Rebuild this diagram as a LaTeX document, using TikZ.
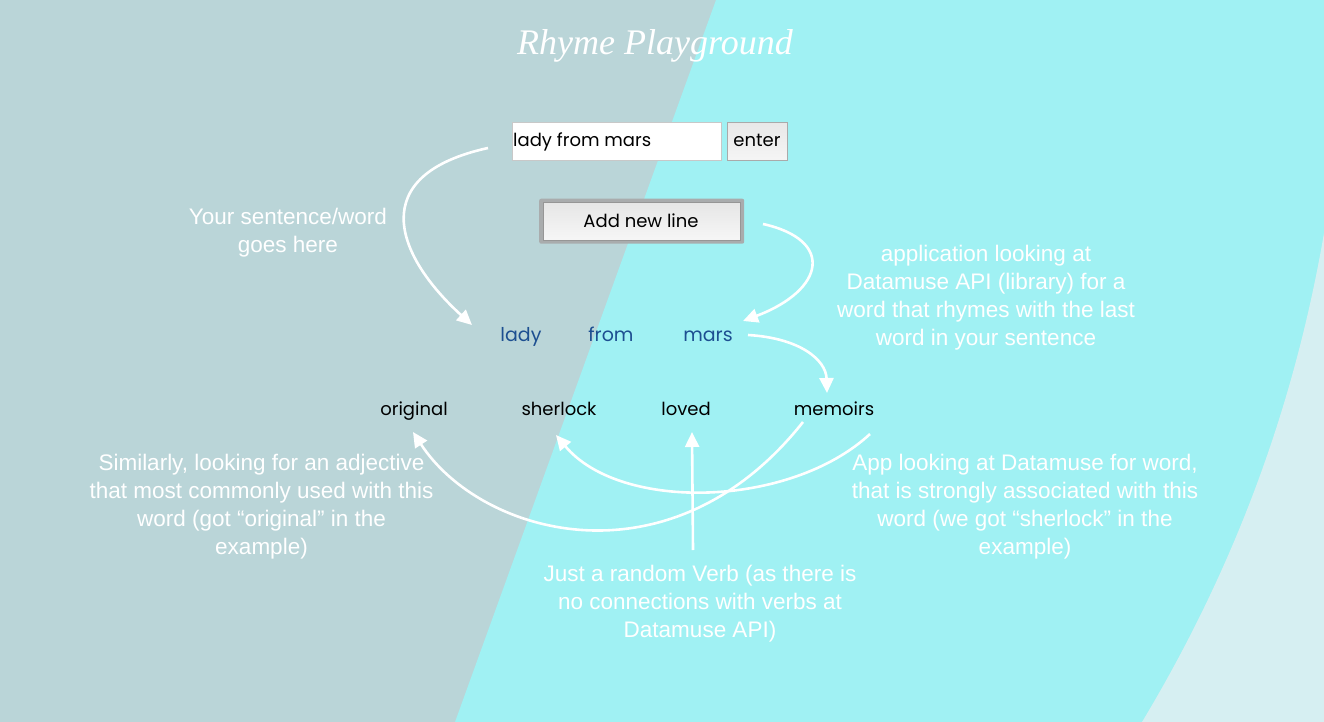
\documentclass[tikz,border=0pt]{standalone}
\usepackage{fontspec}
\setmainfont{Liberation Sans}
\newfontfamily\uifont{Poppins}
\newfontfamily\titlefont{Liberation Serif}
\usetikzlibrary{arrows.meta}
\definecolor{leftbg}{HTML}{BAD5D8}
\definecolor{cyanbg}{HTML}{A0F1F3}
\definecolor{lightbg}{HTML}{D6EFF2}
\definecolor{wordblue}{HTML}{1D4F91}
\definecolor{btnborder}{HTML}{A9ACAD}
\begin{document}
\begin{tikzpicture}[x=1pt,y=-1pt,
  note/.style={text=white, align=center, font=\fontsize{22.5}{28}\selectfont, inner sep=0pt},
  uiword/.style={font=\uifont\fontsize{18}{20}\selectfont, inner sep=0pt, anchor=base},
  lineword/.style={uiword, text=wordblue, font=\uifont\fontsize{19}{20}\selectfont},
  resword/.style={uiword, text=black, font=\uifont\fontsize{18}{20}\selectfont},
  arr/.style={draw=white, line width=2.6pt, -{Triangle[length=15pt,width=14pt]}}
]
\useasboundingbox (0,0) rectangle (1324,722);
% background
\fill[leftbg] (0,0) rectangle (1324,722);
\fill[cyanbg] (716,0) -- (1324,0) -- (1324,722) -- (455,722) -- cycle;
\fill[lightbg] (1324,233) .. controls (1296,396) and (1240,559) .. (1142,722) -- (1324,722) -- cycle;

% title
\node[font=\titlefont\itshape\fontsize{36}{40}\selectfont, text=white] (title) at (655,46) {Rhyme Playground};

% input
\node[draw={rgb,255:red,200;green,200;blue,200}, fill=white, line width=1pt, minimum width=209pt, minimum height=38pt, anchor=north west, inner sep=0pt] (input) at (512,122) {};
\node[uiword, anchor=base west] (inputtxt) at (513,147) {lady from mars};
\node[draw={rgb,255:red,170;green,170;blue,170}, top color={rgb,255:red,232;green,232;blue,232}, bottom color={rgb,255:red,245;green,245;blue,245}, line width=1pt, minimum width=60pt, minimum height=38pt, anchor=north west, inner sep=0pt] (enter) at (727,122) {};
\node[uiword] (entertxt) at (757,147) {enter};

% add new line button
\node[fill=btnborder, rounded corners=2pt, minimum width=205pt, minimum height=45pt, anchor=north west, inner sep=0pt] (addout) at (539,198.5) {};
\node[draw={rgb,255:red,150;green,150;blue,150}, top color={rgb,255:red,230;green,230;blue,230}, bottom color={rgb,255:red,246;green,246;blue,246}, line width=0.8pt, minimum width=197pt, minimum height=38pt, inner sep=0pt] (add) at (addout.center) {};
\node[uiword] (addtxt) at (641,227) {Add new line};

% sentence words
\node[lineword] (lady) at (521,341) {lady};
\node[lineword] (from) at (611,341) {from};
\node[lineword] (mars) at (708,341) {mars};

% result words
\node[resword] (original) at (414,415) {original};
\node[resword] (sherlock) at (559,415) {sherlock};
\node[resword] (loved) at (686,415) {loved};
\node[resword] (memoirs) at (834,415) {memoirs};

% notes
\node[note] (n1) at (288,233) {Your sentence/word\\goes here};
\node[note] (n2) at (986,298) {application looking at\\Datamuse API (library) for a\\word that rhymes with the last\\word in your sentence};
\node[note] (n3) at (261.5,507) {Similarly, looking for an adjective\\that most commonly used with this\\word (got “original” in the\\example)};
\node[note] (n4) at (1025,507) {App looking at Datamuse for word,\\that is strongly associated with this\\word (we got “sherlock” in the\\example)};
\node[note] (n5) at (700,604) {Just a random Verb (as there is\\no connections with verbs at\\Datamuse API)};

% connector end points
\coordinate (a1s) at (488,148);
\coordinate (a1e) at (472,325);
\coordinate (a2s) at (763,224);
\coordinate (a2e) at (743,321);
\coordinate (a3s) at (748,335);
\coordinate (a3e) at (827,393);
\coordinate (a4s) at (803,422);
\coordinate (a4e) at (413,432);
\coordinate (a5s) at (870,434);
\coordinate (a5e) at (556,435);
\coordinate (a6s) at (693,550);
\coordinate (a6e) at (692,432);

% connectors
\draw[arr] (a1s) .. controls (365,175) and (395,255) .. (a1e);
\draw[arr] (a2s) .. controls (835,240) and (825,290) .. (a2e);
\draw[arr] (a3s) .. controls (800,338) and (826,360) .. (a3e);
\draw[arr] (a4s) .. controls (670,590) and (480,535) .. (a4e);
\draw[arr] (a5s) .. controls (790,508) and (620,512) .. (a5e);
\draw[arr] (a6s) -- (a6e);
\end{tikzpicture}
\end{document}
